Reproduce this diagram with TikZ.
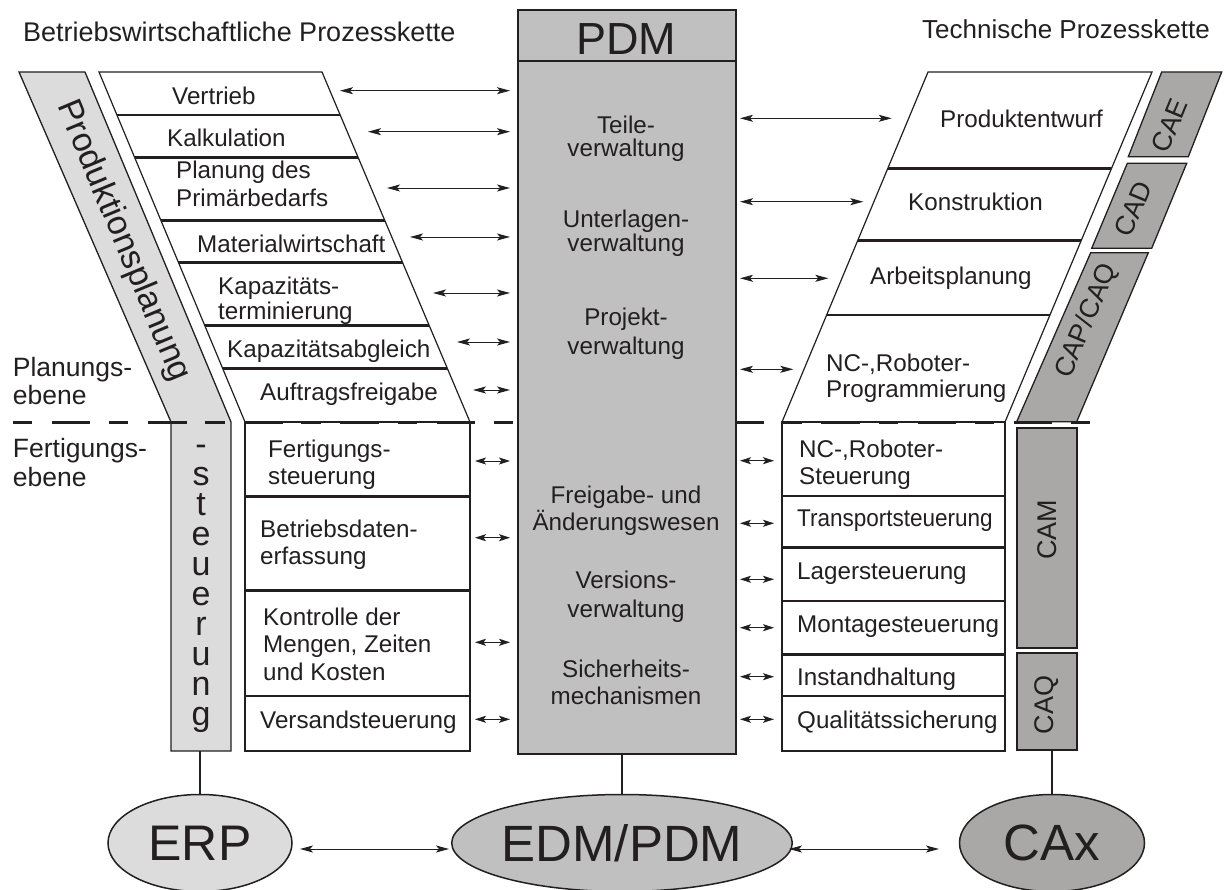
\documentclass[tikz,border=0pt]{standalone}
\usepackage{fontspec}
\setmainfont{Liberation Sans}
\usetikzlibrary{arrows.meta,shapes.geometric}
\definecolor{ink}{HTML}{231F20}
\definecolor{lgrey}{HTML}{DCDCDC}
\definecolor{mgrey}{HTML}{C0C0C0}
\definecolor{dgrey}{HTML}{A9A8A6}
\newcommand{\fsz}[2]{\fontsize{#1}{#2}\selectfont}
\begin{document}
\begin{tikzpicture}[x=1pt,y=-1pt,
  edge/.style={draw=ink, line width=1.2pt},
  boxedge/.style={draw=ink, line width=2pt},
  divider/.style={draw=ink, line width=2.6pt},
  lbl/.style={font=\fsz{24.2}{27}, text=ink, inner sep=0pt, align=left, anchor=north west},
  clbl/.style={font=\fsz{24.2}{27}, text=ink, inner sep=0pt, align=center, anchor=north},
  side/.style={font=\fsz{26.5}{28.5}, text=ink, inner sep=0pt, align=left, anchor=north west},
  cax/.style={font=\fsz{27}{27}, text=ink, inner sep=0pt},
  biarrow/.style={draw=ink, line width=0.9pt, arrows={Stealth[length=13pt,width=7pt,inset=3pt]-Stealth[length=13pt,width=7pt,inset=3pt]}},
  sbiarrow/.style={draw=ink, line width=0.9pt, arrows={Stealth[length=11pt,width=7pt,inset=2.5pt]-Stealth[length=11pt,width=7pt,inset=2.5pt]}},
  conn/.style={draw=ink, line width=2pt},
  sys/.style={ellipse, draw=ink, line width=1.5pt, inner sep=0pt, minimum height=97pt, text=ink}
]
\useasboundingbox (0,0) rectangle (1227,890);

% ---------- left grey bar (Produktionsplanung / -steuerung)
\path[fill=lgrey, draw=ink, line width=1.3pt] (19,72) -- (85,72) -- (231,422) -- (231,751) -- (171,751) -- (171,422) -- cycle;

% ---------- left white chain
\fill[white] (99,72) -- (322,72) -- (470,422) -- (470,751) -- (245,751) -- (245,422) -- cycle;
\begin{scope}
  \clip (99,72) -- (322,72) -- (470,422) -- (470,751) -- (245,751) -- (245,422) -- cycle;
  \foreach \yy in {115,157.3,220.7,262.3,325.7,368.3,496.7,590.3,696}
    \draw[divider] (90,\yy) -- (480,\yy);
\end{scope}
\draw[edge] (99,72) -- (322,72) -- (470,422) -- (470,751) -- (245,751) -- (245,422) -- cycle;
\draw[boxedge] (245,422.5) -- (245,751) -- (470,751) -- (470,422.5) -- cycle;

% ---------- right white chain
\fill[white] (928,72) -- (1152,72) -- (1005,422) -- (1005,751) -- (782,751) -- (782,422) -- cycle;
\begin{scope}
  \clip (928,72) -- (1152,72) -- (1005,422) -- (1005,751) -- (782,751) -- (782,422) -- cycle;
  \foreach \yy in {168.3,240.7,315,496,547.7,601,654.3,696}
    \draw[divider] (770,\yy) -- (1160,\yy);
\end{scope}
\draw[edge] (928,72) -- (1152,72) -- (1005,422) -- (1005,751) -- (782,751) -- (782,422) -- cycle;
\draw[boxedge] (782,422.5) -- (782,751) -- (1005,751) -- (1005,422.5) -- cycle;

% ---------- right dark bars
\path[fill=dgrey, draw=ink, line width=1.3pt] (1161.7,72) -- (1221.7,72) -- (1188.3,156.7) -- (1128.3,156.7) -- cycle;
\path[fill=dgrey, draw=ink, line width=1.3pt] (1127.3,163.3) -- (1186.7,163.3) -- (1151.7,248.3) -- (1091.7,248.3) -- cycle;
\path[fill=dgrey, draw=ink, line width=1.3pt] (1090.7,252.7) -- (1148.3,252.7) -- (1076.7,421.7) -- (1016.7,421.7) -- cycle;
\path[fill=dgrey, draw=ink, line width=1.5pt] (1017,428) rectangle (1077,648);
\path[fill=dgrey, draw=ink, line width=1.5pt] (1017,653) rectangle (1077,750);

% ---------- level line
\coordinate (lvlL) at (12.7,422.5);
\coordinate (lvlR) at (1092,422.5);
\draw[ink, line width=3pt, dash pattern=on 19.5pt off 19.5pt on 38.7pt off 18.5pt] (lvlL) -- (lvlR);

% ---------- PDM box
\node[draw=ink, line width=1.6pt, fill=mgrey, minimum width=218pt, minimum height=744pt, inner sep=0pt, anchor=north west] (pdm) at (517,9) {};
\draw[ink, line width=2.8pt] (517,61) -- (735,61);
\node[font=\fsz{45}{45}, text=ink, inner sep=0pt] (pdmt) at (626,39) {PDM};
\node[clbl, font=\fsz{24.2}{23}] (p1) at (626,115.5) {Teile-\\verwaltung};
\node[clbl, font=\fsz{24.2}{23.5}] (p2) at (626,209.8) {Unterlagen-\\verwaltung};
\node[clbl, font=\fsz{24.2}{28.3}] (p3) at (626,308) {Projekt-\\verwaltung};
\node[clbl, font=\fsz{24.2}{27.3}] (p4) at (626,485.5) {Freigabe- und\\Änderungswesen};
\node[clbl, font=\fsz{24.2}{29.3}] (p5) at (626,570.5) {Versions-\\verwaltung};
\node[clbl, font=\fsz{24.2}{26.7}] (p6) at (626,659.6) {Sicherheits-\\mechanismen};

% ---------- titles and level labels
\node[font=\fsz{27}{27}, text=ink, inner sep=0pt, anchor=west] (t1) at (23,32) {Betriebswirtschaftliche Prozesskette};
\node[font=\fsz{26}{26}, text=ink, inner sep=0pt, anchor=east] (t2) at (1210,29) {Technische Prozesskette};
\node[side] (pe) at (12.7,356.7) {Planungs-\\ebene};
\node[side, font=\fsz{26.5}{29}] (fe) at (12.7,438.3) {Fertigungs-\\ebene};

% ---------- bar texts
\node[font=\fsz{34}{34}, text=ink, inner sep=0pt, rotate=-67.4] (pp) at (123,241) {Produktionsplanung};
\node[font=\fsz{34}{30}, text=ink, inner sep=0pt, align=center, anchor=north] (ps) at (201,432) {\vphantom{X}-\\s\\t\\e\\u\\e\\r\\u\\n\\g};
\node[cax, rotate=67.4] (cae) at (1169.6,125.7) {CAE};
\node[cax, rotate=67.4] (cad) at (1133,209) {CAD};
\node[cax, rotate=67.4] (cap) at (1087,321) {CAP/CAQ};
\node[cax, rotate=90] (cam) at (1047,530) {CAM};
\node[cax, rotate=90] (caq) at (1047,705) {CAQ};

% ---------- left labels
\node[lbl] (l1) at (172,86.3) {Vertrieb};
\node[lbl] (l2) at (167,128.3) {Kalkulation};
\node[lbl, font=\fsz{24.2}{28.3}] (l3) at (176,160.8) {Planung des\\Primärbedarfs};
\node[lbl] (l4) at (197,234.3) {Materialwirtschaft};
\node[lbl, font=\fsz{24.2}{25.7}] (l5) at (218,276.5) {Kapazitäts-\\terminierung};
\node[lbl] (l6) at (227,339.3) {Kapazitätsabgleich};
\node[lbl] (l7) at (260,382.3) {Auftragsfreigabe};
\node[lbl, font=\fsz{24.2}{26.7}] (l8) at (268,440) {Fertigungs-\\steuerung};
\node[lbl, font=\fsz{24.2}{26.7}] (l9) at (260,520) {Betriebsdaten-\\erfassung};
\node[lbl, font=\fsz{24.2}{27.5}] (l10) at (263,607.3) {Kontrolle der\\Mengen, Zeiten\\und Kosten};
\node[lbl] (l11) at (260,710.6) {Versandsteuerung};

% ---------- right labels
\node[lbl] (r1) at (940,109.6) {Produktentwurf};
\node[lbl] (r2) at (908,193) {Konstruktion};
\node[lbl] (r3) at (870,266.3) {Arbeitsplanung};
\node[lbl, font=\fsz{24.2}{26.7}] (r4) at (826,353.3) {NC-,Roboter-\\Programmierung};
\node[lbl, font=\fsz{24.2}{27.7}] (r5) at (799,439.3) {NC-,Roboter-\\Steuerung};
\node[lbl] (r6) at (797,509.6) {\scalebox{0.93}[1]{Transportsteuerung}};
\node[lbl] (r7) at (797,563) {Lagersteuerung};
\node[lbl] (r8) at (797,615.3) {Montagesteuerung};
\node[lbl] (r9) at (797,668) {Instandhaltung};
\node[lbl] (r10) at (797,710.6) {Qualitätssicherung};

% ---------- arrows to PDM
\foreach \x/\y [count=\i] in {340/90.7,368/131.7,387/188,410/237,433/293,457/342,473/390} {
  \coordinate (la\i) at (\x,\y);
  \coordinate (lb\i) at (510,\y);
  \draw[biarrow] (la\i) -- (lb\i);
}
\foreach \y [count=\i] in {461,537.7,642.3,719.3} {
  \coordinate (ma\i) at (475,\y);
  \coordinate (mb\i) at (510,\y);
  \draw[sbiarrow] (ma\i) -- (mb\i);
}
\foreach \x/\y [count=\i] in {891.7/118.3,863.3/201.7,828.3/278.3,793.3/369.3} {
  \coordinate (ra\i) at (740,\y);
  \coordinate (rb\i) at (\x,\y);
  \draw[biarrow] (ra\i) -- (rb\i);
}
\foreach \y [count=\i] in {460.7,523.3,579.3,627.7,676.7,719.3} {
  \coordinate (sa\i) at (740,\y);
  \coordinate (sb\i) at (774,\y);
  \draw[sbiarrow] (sa\i) -- (sb\i);
}

% ---------- systems
\node[sys, fill=lgrey, minimum width=184pt, font=\fsz{50}{50}] (erp) at (200,843) {ERP};
\node[sys, fill=mgrey, minimum width=306pt, font=\fsz{51}{51}] (edm) at (622,843) {EDM/PDM};
\node[sys, fill=dgrey, minimum width=185pt, font=\fsz{51}{51}] (cx) at (1052,843) {CAx};

\coordinate (stB) at (200,751);
\coordinate (pdmB) at (622,753);
\coordinate (caqB) at (1052,750);
\draw[conn] (stB) -- (erp.north);
\draw[conn] (pdmB) -- (edm.north);
\draw[conn] (caqB) -- (cx.north);

\coordinate (b1) at (300,849);
\coordinate (b2) at (449,849);
\coordinate (b3) at (789,849);
\coordinate (b4) at (939,849);
\draw[biarrow] (b1) -- (b2);
\draw[biarrow] (b3) -- (b4);
\end{tikzpicture}
\end{document}
